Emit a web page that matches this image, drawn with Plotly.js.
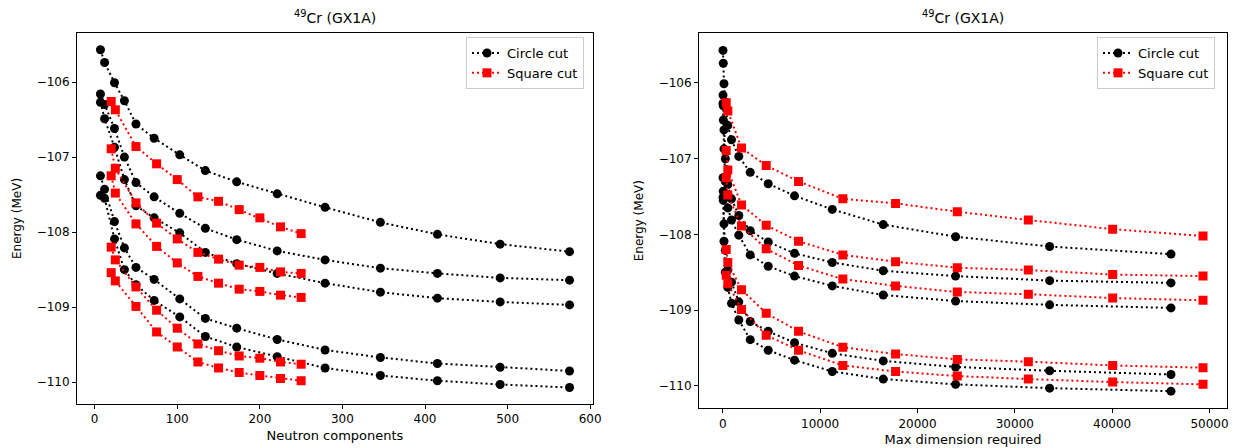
<!DOCTYPE html>
<html>
<head>
<meta charset="utf-8">
<script src="https://cdn.plot.ly/plotly-3.0.1.min.js"></script>
<style>html,body{margin:0;padding:0;background:#fff;}#chart{width:1234px;height:448px;}</style>
</head>
<body>
<div id="chart"></div>
<script>
// x values
const circleN = [7, 12, 24, 36, 50, 72, 103, 134, 172, 221, 279, 346, 415, 491, 575];
const circleDim = [20, 50, 120, 260, 514, 894, 1644, 2816, 4666, 7369, 11244, 16485, 23916, 33577, 46043];
const squareN = [20, 25, 50, 75, 100, 125, 150, 175, 200, 225, 250];
const squareDim = [350, 514, 1922, 4460, 7780, 12333, 17749, 24090, 31387, 40051, 49332];

// circle-cut energies (MeV), one array per state
const circle1 = [-105.57, -105.74, -106.01, -106.25, -106.56, -106.75, -106.97, -107.18, -107.33, -107.49, -107.67, -107.87, -108.03, -108.16, -108.26];
const circle2 = [-106.16, -106.30, -106.62, -107.00, -107.34, -107.53, -107.75, -107.95, -108.10, -108.25, -108.37, -108.48, -108.55, -108.61, -108.64];
const circle3 = [-106.27, -106.49, -106.87, -107.30, -107.65, -107.81, -108.01, -108.27, -108.42, -108.55, -108.68, -108.80, -108.88, -108.93, -108.97];
const circle4 = [-107.25, -107.43, -107.86, -108.21, -108.47, -108.63, -108.89, -109.15, -109.28, -109.43, -109.57, -109.67, -109.75, -109.80, -109.85];
const circle5 = [-107.51, -107.55, -108.09, -108.50, -108.70, -108.91, -109.13, -109.39, -109.53, -109.66, -109.81, -109.91, -109.98, -110.03, -110.07];

// square-cut energies (MeV)
const square1 = [-106.26, -106.37, -106.86, -107.09, -107.30, -107.53, -107.59, -107.70, -107.81, -107.93, -108.02];
const square2 = [-106.89, -107.15, -107.61, -107.88, -108.09, -108.27, -108.36, -108.44, -108.47, -108.53, -108.55];
const square3 = [-107.25, -107.48, -107.89, -108.19, -108.41, -108.59, -108.68, -108.76, -108.79, -108.84, -108.87];
const square4 = [-108.20, -108.37, -108.73, -109.04, -109.28, -109.49, -109.58, -109.65, -109.68, -109.73, -109.76];
const square5 = [-108.54, -108.65, -108.99, -109.33, -109.53, -109.73, -109.81, -109.87, -109.91, -109.95, -109.98];

const circleSeries = [circle1, circle2, circle3, circle4, circle5];
const squareSeries = [square1, square2, square3, square4, square5];

const titleText = '<sup>49</sup>Cr (GX1A)';
const legendNames = ['Circle cut', 'Square cut'];

const FONT = 'DejaVu Sans, sans-serif';
const traces = [];

function addSet(xs, seriesList, name, color, symbol, size, xa, ya, legendId) {
  seriesList.forEach((ys, i) => {
    traces.push({
      type: 'scatter', mode: 'lines+markers',
      x: xs, y: ys, xaxis: xa, yaxis: ya,
      name: name, legendgroup: name + xa, showlegend: i === 0, legend: legendId,
      line: {color: color, width: 2, dash: '2px,3px'},
      marker: {color: color, symbol: symbol, size: size},
      hoverinfo: 'x+y'
    });
  });
}

// left panel
addSet(circleN, circleSeries, legendNames[0], '#000000', 'circle', 9, 'x', 'y', 'legend');
addSet(squareN, squareSeries, legendNames[1], '#ff0000', 'square', 9, 'x', 'y', 'legend');
// right panel
addSet(circleDim, circleSeries, legendNames[0], '#000000', 'circle', 9, 'x2', 'y2', 'legend2');
addSet(squareDim, squareSeries, legendNames[1], '#ff0000', 'square', 9, 'x2', 'y2', 'legend2');

const W = 1234, H = 448;
const axisCommon = {
  showgrid: false, zeroline: false, showline: true, mirror: true,
  linecolor: '#000', linewidth: 1, ticks: 'outside', ticklen: 4, tickwidth: 1, tickcolor: '#000',
  tickfont: {family: FONT, size: 12, color: '#000'}, automargin: false
};

const legendCommon = {
  bgcolor: 'rgba(255,255,255,0.8)', bordercolor: '#cccccc', borderwidth: 1,
  font: {family: FONT, size: 13, color: '#000'}, xanchor: 'left', yanchor: 'top',
  tracegroupgap: 0, itemwidth: 30
};

const layout = {
  width: W, height: H,
  margin: {l: 0, r: 0, t: 0, b: 0},
  paper_bgcolor: '#fff', plot_bgcolor: '#fff',
  font: {family: FONT, color: '#000'},
  xaxis: Object.assign({}, axisCommon, {
    domain: [77 / W, 593 / W], range: [-21.4, 603.4], dtick: 100, tick0: 0,
    title: {text: 'Neutron components', font: {family: FONT, size: 13}, standoff: 5}
  }),
  yaxis: Object.assign({}, axisCommon, {
    domain: [(H - 404) / H, (H - 33) / H], range: [-110.29, -105.347], dtick: 1, tick0: -110,
    title: {text: 'Energy (MeV)', font: {family: FONT, size: 12}, standoff: 12}
  }),
  xaxis2: Object.assign({}, axisCommon, {
    anchor: 'y2', domain: [699 / W, 1227 / W], range: [-2446, 51798], dtick: 10000, tick0: 0,
    tickformat: 'd',
    title: {text: 'Max dimension required', font: {family: FONT, size: 13}, standoff: 5}
  }),
  yaxis2: Object.assign({}, axisCommon, {
    anchor: 'x2', domain: [(H - 408.3) / H, (H - 33) / H], range: [-110.296, -105.34], dtick: 1, tick0: -110,
    title: {text: 'Energy (MeV)', font: {family: FONT, size: 12}, standoff: 12}
  }),
  legend: Object.assign({}, legendCommon, {x: 466 / W, y: (H - 37) / H}),
  legend2: Object.assign({}, legendCommon, {x: 1097 / W, y: (H - 37) / H}),
  annotations: [
    {text: titleText, xref: 'paper', yref: 'paper', x: 335 / W, y: (H - 17) / H, showarrow: false,
     xanchor: 'center', yanchor: 'middle', font: {family: FONT, size: 14, color: '#000'}},
    {text: titleText, xref: 'paper', yref: 'paper', x: 963 / W, y: (H - 17) / H, showarrow: false,
     xanchor: 'center', yanchor: 'middle', font: {family: FONT, size: 14, color: '#000'}}
  ],
  showlegend: true
};

Plotly.newPlot('chart', traces, layout, {displayModeBar: false, staticPlot: true});
</script>
</body>
</html>
